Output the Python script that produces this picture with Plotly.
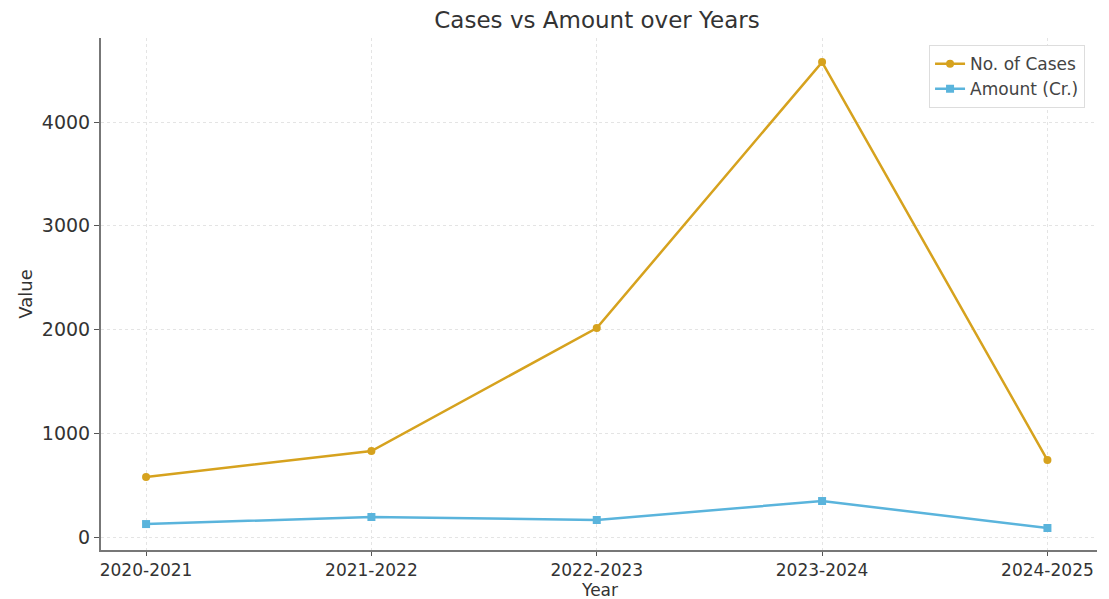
import plotly.graph_objects as go

years = ["2020-2021", "2021-2022", "2022-2023", "2023-2024", "2024-2025"]
cases = [578, 829, 2014, 4578, 742]
amount = [125, 193, 164, 347, 87]

gold = "#D6A21E"
blue = "#5AB4DC"

fig = go.Figure()
fig.add_trace(go.Scatter(x=years, y=cases, mode="lines+markers", name="No. of Cases",
                         line=dict(color=gold, width=2.5), marker=dict(symbol="circle", size=8, color=gold)))
fig.add_trace(go.Scatter(x=years, y=amount, mode="lines+markers", name="Amount (Cr.)",
                         line=dict(color=blue, width=2.5), marker=dict(symbol="square", size=8, color=blue)))

font = "DejaVu Sans"
fig.update_layout(
    width=1101, height=591,
    margin=dict(l=93, r=12, t=30, b=49, autoexpand=False),
    paper_bgcolor="white", plot_bgcolor="white",
    title=dict(text="Cases vs Amount over Years", x=0.535, xanchor="center", y=0.98, yanchor="middle",
               font=dict(family=font, size=23, color="#333")),
    font=dict(family=font, color="#333"),
    legend=dict(x=0.988, y=0.986, xanchor="right", yanchor="top", bgcolor="white",
                bordercolor="#ddd", borderwidth=1, font=dict(size=17, color="#444")),
    xaxis=dict(type="category", range=[-0.2, 4.22], showgrid=True, gridcolor="#e4e4e4", griddash="dot",
               showline=True, linecolor="#777", linewidth=2, ticks="outside", ticklen=4, tickcolor="#555",
               tickfont=dict(size=17, color="#333"), zeroline=False, automargin=False),
    yaxis=dict(range=[-125, 4810], tickvals=[0, 1000, 2000, 3000, 4000], showgrid=True, gridcolor="#e4e4e4",
               griddash="dot", showline=True, linecolor="#777", linewidth=2, ticks="outside", ticklen=5,
               tickcolor="#555", tickfont=dict(size=19, color="#333"), zeroline=False, automargin=False,
               title=dict(text="Value", font=dict(size=18, color="#333"), standoff=5)),
    annotations=[dict(text="Year", xref="paper", yref="paper", x=0.5, y=0, yshift=-40,
                      xanchor="center", yanchor="middle", showarrow=False,
                      font=dict(family=font, size=17, color="#333"))],
)
fig.write_html("out.html")
